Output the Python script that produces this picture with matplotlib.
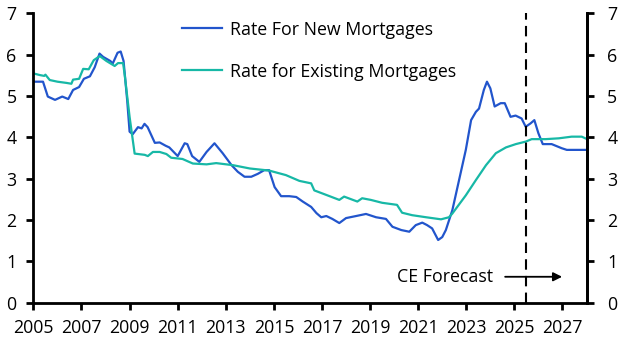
import matplotlib.pyplot as plt

# data (decimal years)
new_years = [2005.0, 2005.4, 2005.6, 2005.9, 2006.2, 2006.45, 2006.65, 2006.9, 2007.1, 2007.35,
             2007.55, 2007.75, 2007.9, 2008.2, 2008.3, 2008.5, 2008.63, 2008.75, 2008.9, 2009.0,
             2009.13, 2009.35, 2009.5, 2009.62, 2009.75, 2010.05, 2010.25, 2010.5, 2010.65, 2011.0,
             2011.29, 2011.4, 2011.6, 2011.9, 2012.2, 2012.53, 2012.87, 2013.24, 2013.5, 2013.78,
             2014.06, 2014.33, 2014.6, 2014.8, 2015.03, 2015.3, 2015.64, 2015.93, 2016.2, 2016.55,
             2016.77, 2016.97, 2017.18, 2017.43, 2017.72, 2018.0, 2018.42, 2018.83, 2019.25, 2019.66,
             2019.93, 2020.3, 2020.63, 2020.9, 2021.17, 2021.37, 2021.58, 2021.83, 2022.0, 2022.15,
             2022.42, 2022.7, 2022.98, 2023.2, 2023.4, 2023.53, 2023.73, 2023.86, 2024.0, 2024.18,
             2024.43, 2024.6, 2024.84, 2025.05, 2025.3, 2025.47, 2025.67, 2025.83, 2026.0, 2026.18,
             2026.55, 2026.97, 2027.18, 2027.95]
new_rate = [5.35, 5.35, 4.99, 4.91, 4.99, 4.93, 5.15, 5.22, 5.42, 5.48,
            5.7, 6.03, 5.95, 5.85, 5.79, 6.05, 6.08, 5.85, 4.9, 4.14,
            4.08, 4.25, 4.22, 4.33, 4.25, 3.87, 3.88, 3.8, 3.76, 3.55,
            3.86, 3.84, 3.55, 3.41, 3.65, 3.86, 3.62, 3.33, 3.17, 3.05,
            3.05, 3.12, 3.21, 3.21, 2.8, 2.58, 2.58, 2.56, 2.45, 2.32,
            2.17, 2.07, 2.1, 2.03, 1.93, 2.05, 2.1, 2.15, 2.07, 2.03,
            1.84, 1.76, 1.72, 1.88, 1.94, 1.88, 1.8, 1.52, 1.59, 1.76,
            2.24, 2.97, 3.7, 4.42, 4.62, 4.7, 5.15, 5.35, 5.19, 4.75,
            4.83, 4.83, 4.5, 4.53, 4.46, 4.26, 4.34, 4.42, 4.1, 3.84,
            3.84, 3.74, 3.7, 3.7]

exist_years = [2005.0, 2005.27, 2005.45, 2005.5, 2005.68, 2006.0, 2006.38, 2006.58, 2006.65, 2006.9,
               2007.07, 2007.3, 2007.51, 2007.76, 2008.04, 2008.38, 2008.52, 2008.73, 2008.8, 2009.0,
               2009.21, 2009.63, 2009.76, 2009.97, 2010.25, 2010.53, 2010.73, 2011.2, 2011.63, 2012.2,
               2012.6, 2013.3, 2014.0, 2014.8, 2015.5, 2016.06, 2016.55, 2016.68, 2017.18, 2017.72,
               2017.92, 2018.47, 2018.67, 2019.03, 2019.5, 2020.12, 2020.33, 2020.75, 2021.33, 2021.95,
               2022.28, 2022.42, 2022.98, 2023.4, 2023.82, 2024.23, 2024.65, 2025.06, 2025.47, 2025.72,
               2026.3, 2026.85, 2027.38, 2027.8, 2027.95]
exist_rate = [5.55, 5.51, 5.49, 5.52, 5.39, 5.35, 5.32, 5.3, 5.4, 5.42,
              5.66, 5.65, 5.87, 5.97, 5.85, 5.73, 5.8, 5.8, 5.5, 4.5,
              3.61, 3.58, 3.55, 3.65, 3.65, 3.6, 3.51, 3.48, 3.37, 3.35,
              3.38, 3.33, 3.25, 3.2, 3.09, 2.95, 2.89, 2.72, 2.61, 2.49,
              2.57, 2.45, 2.53, 2.49, 2.42, 2.37, 2.18, 2.12, 2.07, 2.02,
              2.07, 2.16, 2.6, 2.97, 3.33, 3.62, 3.76, 3.84, 3.9, 3.96,
              3.96, 3.98, 4.02, 4.02, 3.98]

forecast_start = 2025.5
year_ticks = list(range(2005, 2028, 2))

plt.rcParams['font.family'] = ['Open Sans', 'DejaVu Sans']
plt.rcParams['font.size'] = 12.8

fig = plt.figure(figsize=(6.3, 3.55), dpi=100)
ax = fig.add_axes([0.053, 0.147, 0.878, 0.815])

ax.plot(new_years, new_rate, color='#2255cc', lw=1.6, label='Rate For New Mortgages')
ax.plot(exist_years, exist_rate, color='#17b8a6', lw=1.6, label='Rate for Existing Mortgages')

ax.axvline(forecast_start, color='black', lw=1.5, dashes=(5, 3))
ax.annotate('', xy=(2027.1, 0.63), xytext=(2024.5, 0.63),
            arrowprops=dict(arrowstyle='-|>', color='black', lw=1.3, mutation_scale=13))
ax.text(2024.1, 0.63, 'CE Forecast', ha='right', va='center')

ax.set_xlim(2005, 2028)
ax.set_ylim(0, 7)
ax.set_xticks(year_ticks)
ax.set_xticklabels([str(y) for y in year_ticks])
ax.set_yticks(range(0, 8))

for s in ['left', 'right', 'bottom']:
    ax.spines[s].set_linewidth(2)
ax.spines['top'].set_visible(False)
ax.tick_params(axis='y', direction='out', length=5, width=2, pad=7)
ax.tick_params(axis='x', direction='out', length=5, width=2, pad=7)

# right-hand axis, same scale
ax2 = ax.twinx()
ax2.set_ylim(0, 7)
ax2.set_yticks(range(0, 8))
ax2.spines['top'].set_visible(False)
ax2.spines['right'].set_linewidth(2)
ax2.tick_params(axis='y', direction='out', length=5, width=2, pad=10)

ax.legend(loc='upper left', bbox_to_anchor=(0.255, 1.0), borderaxespad=0,
          frameon=False, handlelength=2.3, labelspacing=1.35, handletextpad=0.4)

fig.savefig('out.png', dpi=100)
